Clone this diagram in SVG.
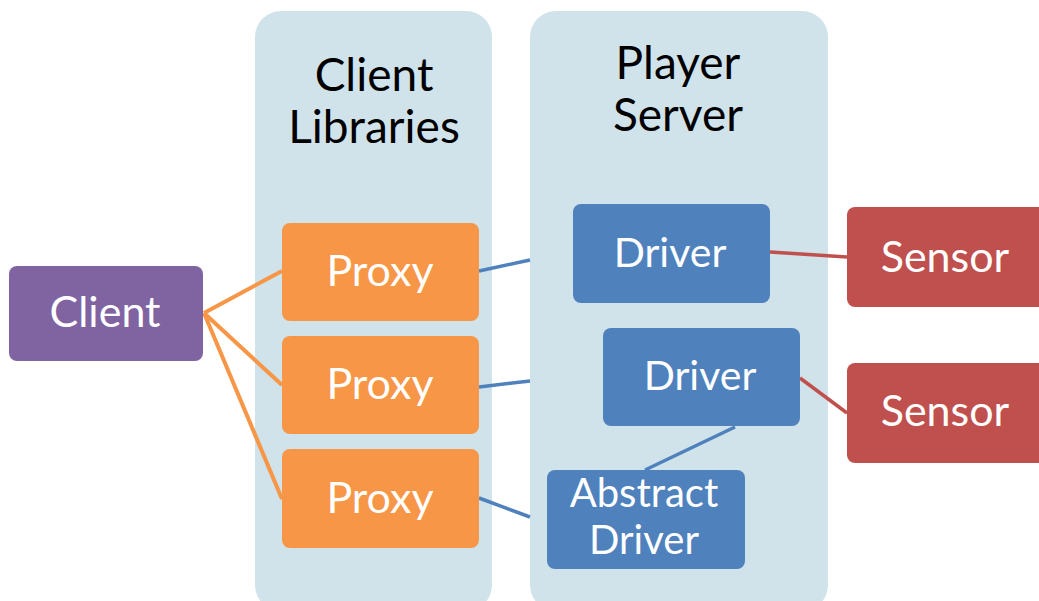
<svg xmlns="http://www.w3.org/2000/svg" width="1039" height="601" viewBox="0 0 1039 601">
  <style>
    .panel { fill: #D0E2EA; }
    .box { stroke: none; }
    .purple { fill: #8064A2; }
    .orange { fill: #F79646; }
    .blue { fill: #4F81BD; }
    .red { fill: #C0504D; }
    .head { font-family: Lato, "Open Sans", sans-serif; font-size: 46px; fill: #000; text-anchor: middle; }
    .lbl { font-family: Lato, "Open Sans", sans-serif; font-size: 43px; fill: #fff; text-anchor: middle; }
    .lbl.drv { font-size: 41px; }
    .lbl.abs { font-size: 40px; }
    .c-orange { stroke: #F79646; stroke-width: 4; fill: none; }
    .c-blue { stroke: #4F81BD; stroke-width: 3.5; fill: none; }
    .c-red { stroke: #C0504D; stroke-width: 3.5; fill: none; }
  </style>
  <rect width="1039" height="601" fill="#fff"/>

  <!-- container panels -->
  <g id="client-libraries">
    <rect class="panel" x="255" y="11" width="237" height="600" rx="26"/>
    <text class="head" x="374" y="91">Client</text>
    <text class="head" x="374" y="143">Libraries</text>
  </g>
  <g id="player-server">
    <rect class="panel" x="530" y="11" width="298" height="600" rx="26"/>
    <text class="head" x="678" y="79">Player</text>
    <text class="head" x="678" y="131">Server</text>
  </g>

  <!-- connectors -->
  <g id="connectors">
    <line class="c-orange" x1="204" y1="313" x2="282" y2="271"/>
    <line class="c-orange" x1="204" y1="313" x2="282" y2="385"/>
    <line class="c-orange" x1="204" y1="313" x2="282" y2="499"/>
    <line class="c-blue" x1="479" y1="271" x2="530" y2="260"/>
    <line class="c-blue" x1="479" y1="387" x2="530" y2="381"/>
    <line class="c-blue" x1="479" y1="498" x2="530" y2="517"/>
    <line class="c-blue" x1="735" y1="427" x2="645" y2="470"/>
    <line class="c-red" x1="770" y1="252" x2="847" y2="257"/>
    <line class="c-red" x1="800" y1="378" x2="847" y2="413"/>
  </g>

  <g id="client">
    <rect class="box purple" x="9" y="266" width="194" height="95" rx="8"/>
    <text class="lbl" x="105" y="327">Client</text>
  </g>
  <g id="proxy-1">
    <rect class="box orange" x="282" y="223" width="197" height="98" rx="8"/>
    <text class="lbl" x="380" y="286">Proxy</text>
  </g>
  <g id="proxy-2">
    <rect class="box orange" x="282" y="336" width="197" height="98" rx="8"/>
    <text class="lbl" x="380" y="399">Proxy</text>
  </g>
  <g id="proxy-3">
    <rect class="box orange" x="282" y="449" width="197" height="99" rx="8"/>
    <text class="lbl" x="380" y="513">Proxy</text>
  </g>
  <g id="driver-1">
    <rect class="box blue" x="573" y="204" width="197" height="99" rx="8"/>
    <text class="lbl drv" x="670" y="267">Driver</text>
  </g>
  <g id="driver-2">
    <rect class="box blue" x="603" y="328" width="197" height="98" rx="8"/>
    <text class="lbl drv" x="700" y="390">Driver</text>
  </g>
  <g id="abstract-driver">
    <rect class="box blue" x="547" y="470" width="198" height="99" rx="8"/>
    <text class="lbl abs" x="644" y="507">Abstract</text>
    <text class="lbl abs" x="644" y="554">Driver</text>
  </g>
  <g id="sensor-1">
    <rect class="box red" x="847" y="207" width="200" height="100" rx="8"/>
    <text class="lbl" x="945" y="272">Sensor</text>
  </g>
  <g id="sensor-2">
    <rect class="box red" x="847" y="363" width="200" height="100" rx="8"/>
    <text class="lbl" x="945" y="426">Sensor</text>
  </g>
</svg>
